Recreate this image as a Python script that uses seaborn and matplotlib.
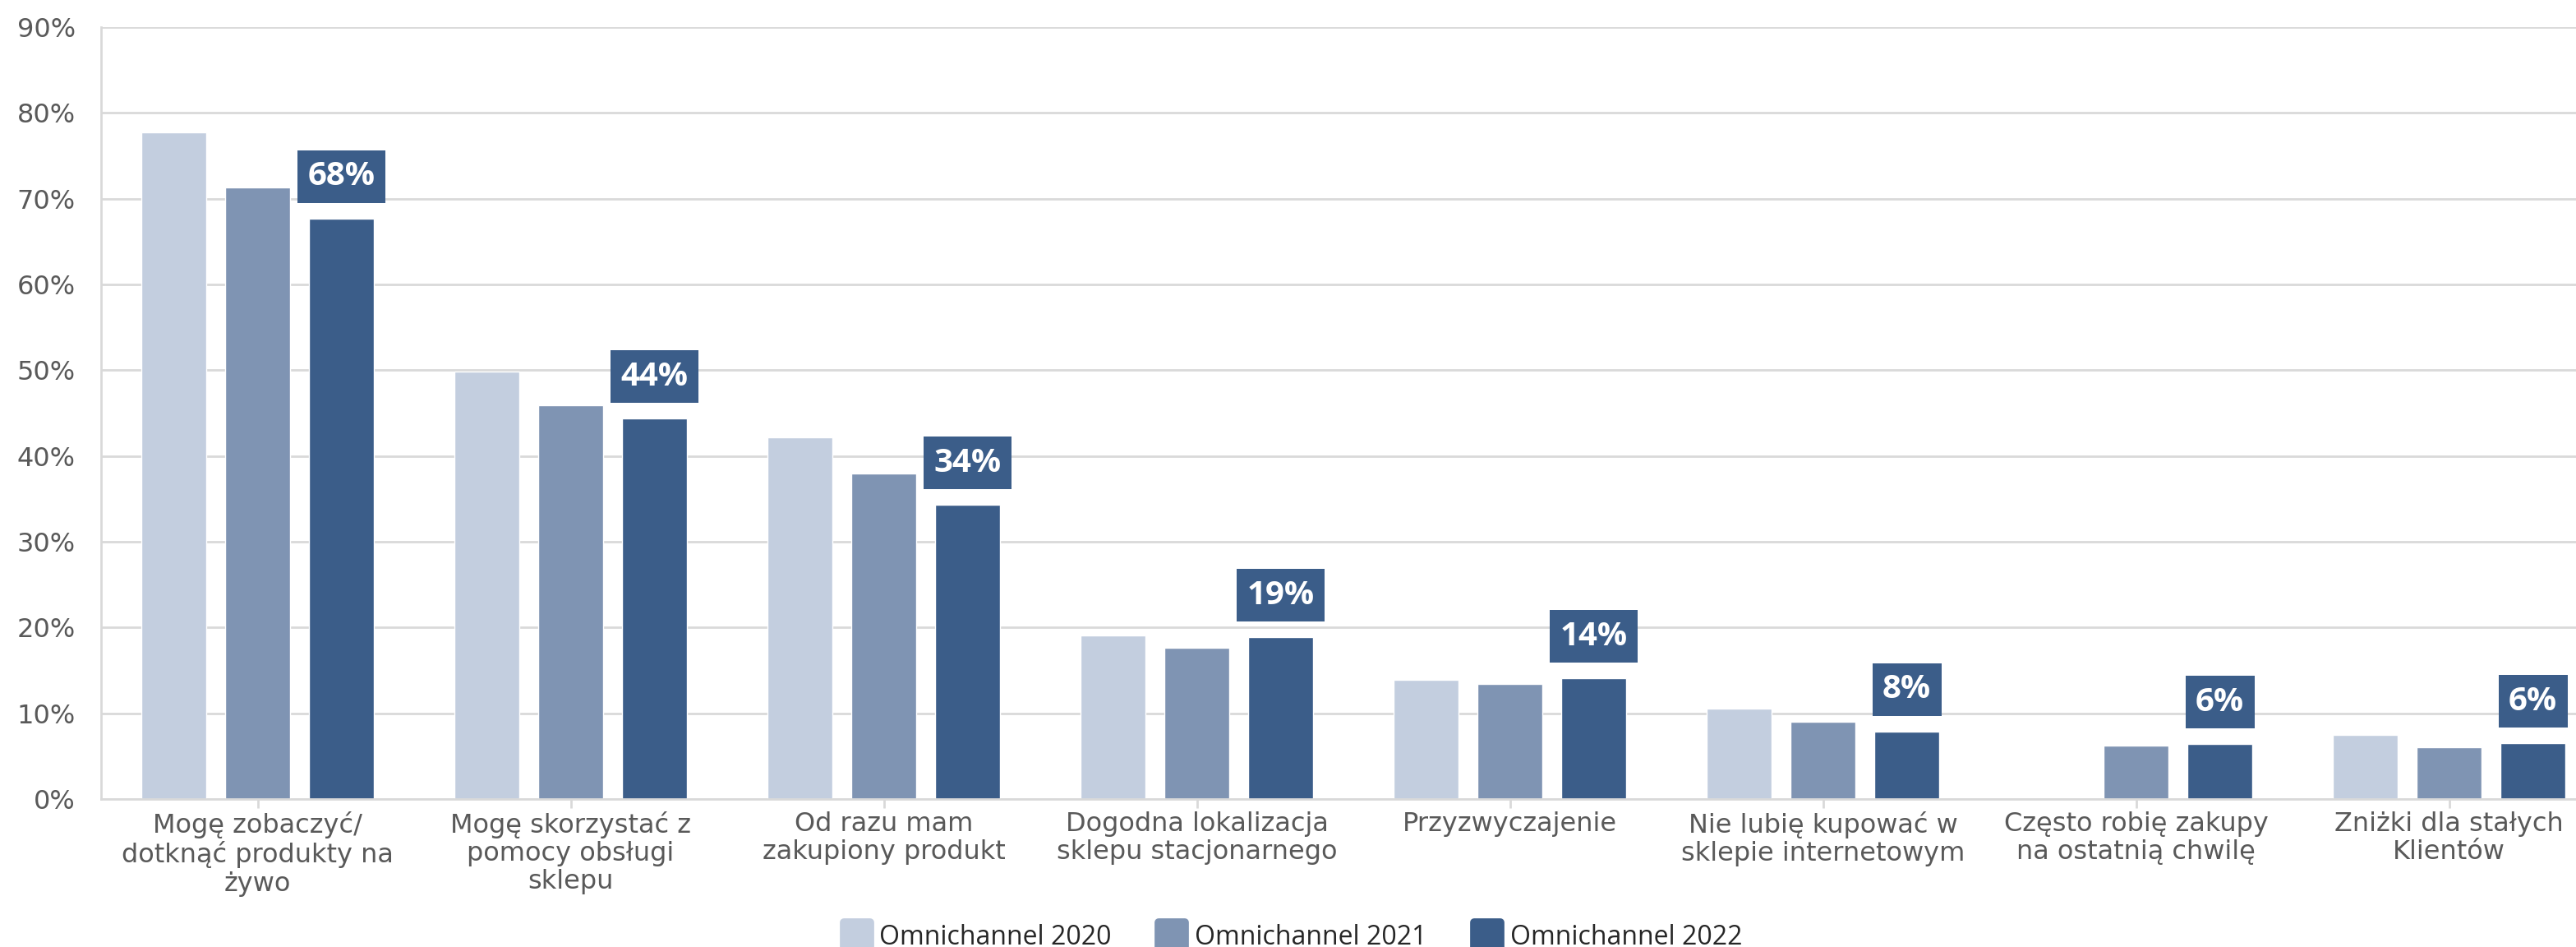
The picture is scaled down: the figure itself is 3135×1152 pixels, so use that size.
import numpy as np
import pandas as pd
import matplotlib
matplotlib.use("Agg")
import matplotlib.pyplot as plt
from matplotlib.lines import Line2D
from matplotlib.markers import MarkerStyle
import seaborn as sns

# Survey answers (category labels, wrapped as shown on the axis)
categories = [
    "Mogę zobaczyć/\ndotknąć produkty na\nżywo",
    "Mogę skorzystać z\npomocy obsługi\nsklepu",
    "Od razu mam\nzakupiony produkt",
    "Dogodna lokalizacja\nsklepu stacjonarnego",
    "Przyzwyczajenie",
    "Nie lubię kupować w\nsklepie internetowym",
    "Często robię zakupy\nna ostatnią chwilę",
    "Zniżki dla stałych\nKlientów",
]
series_names = ["Omnichannel 2020", "Omnichannel 2021", "Omnichannel 2022"]

# Share of respondents, in percent
values_2020 = [77.7, 49.8, 42.2, 19.1, 13.9, 10.5, np.nan, 7.5]
values_2021 = [71.3, 45.9, 38.0, 17.6, 13.4, 9.0, 6.2, 6.0]
values_2022 = [67.7, 44.4, 34.3, 18.9, 14.1, 7.9, 6.4, 6.5]

y_ticks = [0, 10, 20, 30, 40, 50, 60, 70, 80, 90]

colors = ["#C3CEDF", "#7F94B3", "#3B5D89"]
grid_color = "#D9D9D9"
text_color = "#595959"

df = pd.DataFrame({
    "category": categories * 3,
    "series": np.repeat(series_names, len(categories)),
    "value": values_2020 + values_2021 + values_2022,
})

sns.set_theme(style="white")
plt.rcParams["font.family"] = ["DejaVu Sans"]

W, H, DPI = 3135, 1152, 100
fig = plt.figure(figsize=(W / DPI, H / DPI), dpi=DPI)
ax = fig.add_axes([123 / W, 1 - 972 / H, 1 - 123 / W, (972 - 33) / H])

sns.barplot(
    data=df, x="category", y="value", hue="series",
    order=categories, hue_order=series_names, palette=colors,
    width=0.804, gap=0.228, saturation=1, ax=ax, legend=False,
)

ax.set_ylim(0, 90)
ax.set_xlim(-0.5, -0.5 + (W - 123) / 381)
ax.set_yticks(y_ticks)
ax.set_yticklabels([f"{t}%" for t in y_ticks])
ax.set_xlabel("")
ax.set_ylabel("")

ax.yaxis.grid(True, color=grid_color, linewidth=2)
ax.set_axisbelow(True)
for side in ["top", "right"]:
    ax.spines[side].set_visible(False)
for side in ["left", "bottom"]:
    ax.spines[side].set_color(grid_color)
    ax.spines[side].set_linewidth(2)

ax.tick_params(axis="y", length=9.5, width=2, color=grid_color, pad=13,
               labelsize=23, labelcolor=text_color)
ax.tick_params(axis="x", length=8, width=2, color=grid_color, pad=2.5,
               labelsize=23, labelcolor=text_color)
ax.tick_params(axis="x", which="both", bottom=True)
for lbl in ax.get_xticklabels():
    lbl.set_linespacing(1.14)
    lbl.set_ha("center")

# Value tags above the 2022 bars
for bar, v in zip(ax.containers[2], values_2022):
    cx = bar.get_x() + bar.get_width() / 2
    ax.annotate(
        f"{v:.0f}%", xy=(cx, v), xytext=(0, 22.5), textcoords="offset points",
        ha="center", va="bottom", fontsize=29, fontweight="bold",
        family=["Open Sans", "DejaVu Sans"], color="white",
        bbox=dict(boxstyle="square,pad=0.31", fc=colors[2], ec="none"),
    )

# Legend with rounded square swatches
handles = [
    Line2D([], [], linestyle="none",
           marker=MarkerStyle("s", joinstyle="round"),
           markersize=23, markerfacecolor=c, markeredgecolor=c,
           markeredgewidth=7)
    for c in colors
]
fig.legend(
    handles, series_names, loc="center", bbox_to_anchor=(0.5017, 0.010),
    ncol=3, frameon=False, handlelength=1.1, handletextpad=0.32,
    columnspacing=1.75, prop={"family": ["Open Sans", "DejaVu Sans"], "size": 23},
    labelcolor="#262626",
)

fig.savefig("out.png", dpi=DPI)
